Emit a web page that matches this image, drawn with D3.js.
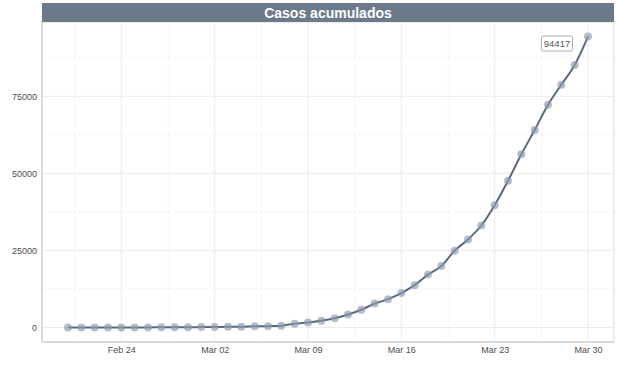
<!DOCTYPE html>
<html>
<head>
<meta charset="utf-8">
<script src="https://cdn.jsdelivr.net/npm/d3@7"></script>
<style>
  body { margin: 0; background: #fff; }
  text { font-family: "Liberation Sans", Arial, sans-serif; }
</style>
</head>
<body>
<div id="chart"></div>
<script>
var startDate = "2020-02-20";
var casos = [2, 2, 2, 3, 6, 13, 23, 32, 45, 84,
  114, 151, 198, 237, 365, 430, 589, 1204, 1622, 2140,
  2965, 4209, 5753, 7753, 9191, 11178, 13716, 17147, 19980, 24926,
  28572, 33089, 39673, 47610, 56188, 64059, 72248, 78797, 85195, 94417];
var yTicks = [0, 25000, 50000, 75000];
var xTickLabels = ["2020-02-24", "2020-03-02", "2020-03-09", "2020-03-16", "2020-03-23", "2020-03-30"];

var width = 620, height = 368;
var margin = {top: 22, right: 6, bottom: 26, left: 42};
var innerW = width - margin.left - margin.right;
var innerH = height - margin.top - margin.bottom;

var parseDate = d3.timeParse("%Y-%m-%d");
var day0 = parseDate(startDate);
var data = casos.map(function(v, i) {
  return {date: d3.timeDay.offset(day0, i), value: v};
});

var xExt = d3.extent(data, d => d.date);
var pad = (xExt[1] - xExt[0]) * 0.05;
var xScale = d3.scaleTime()
  .domain([new Date(+xExt[0] - pad), new Date(+xExt[1] + pad)])
  .range([0, innerW]);

var yMax = d3.max(data, d => d.value);
var yScale = d3.scaleLinear()
  .domain([-yMax * 0.05, yMax * 1.05])
  .range([innerH, 0]);

var svg = d3.select("#chart").append("svg")
  .attr("width", width)
  .attr("height", height);

var g = svg.append("g")
  .attr("transform", `translate(${margin.left}, ${margin.top})`);

/* grid */
var xMajor = xTickLabels.map(parseDate);
var xMinor = [d3.timeHour.offset(d3.timeDay.offset(xMajor[0], -4), 12)];
xMajor.forEach(d => xMinor.push(d3.timeHour.offset(d3.timeDay.offset(d, 3), 12)));
var yMinor = [12500, 37500, 62500, 87500];

g.selectAll(".xminor").data(xMinor).enter().append("line")
  .attr("x1", d => xScale(d)).attr("x2", d => xScale(d))
  .attr("y1", 0).attr("y2", innerH)
  .attr("stroke", "#f4f4f4").attr("stroke-width", 0.8);
g.selectAll(".yminor").data(yMinor).enter().append("line")
  .attr("x1", 0).attr("x2", innerW)
  .attr("y1", d => yScale(d)).attr("y2", d => yScale(d))
  .attr("stroke", "#f4f4f4").attr("stroke-width", 0.8);
g.selectAll(".xmajor").data(xMajor).enter().append("line")
  .attr("x1", d => xScale(d)).attr("x2", d => xScale(d))
  .attr("y1", 0).attr("y2", innerH)
  .attr("stroke", "#ebebeb").attr("stroke-width", 1);
g.selectAll(".ymajor").data(yTicks).enter().append("line")
  .attr("x1", 0).attr("x2", innerW)
  .attr("y1", d => yScale(d)).attr("y2", d => yScale(d))
  .attr("stroke", "#ebebeb").attr("stroke-width", 1);

/* panel border */
g.append("rect")
  .attr("x", 0).attr("y", 0)
  .attr("width", innerW).attr("height", innerH)
  .attr("fill", "none").attr("stroke", "#dcdcdc").attr("stroke-width", 1);
g.append("line")
  .attr("x1", 0).attr("x2", 0).attr("y1", 0).attr("y2", innerH)
  .attr("stroke", "#c8c8c8");
g.append("line")
  .attr("x1", 0).attr("x2", innerW).attr("y1", innerH).attr("y2", innerH)
  .attr("stroke", "#c8c8c8");

/* axes */
var xAxis = d3.axisBottom(xScale).tickValues(xMajor).tickFormat(d3.timeFormat("%b %d")).tickSize(0).tickPadding(5);
var yAxis = d3.axisLeft(yScale).tickValues(yTicks).tickFormat(d3.format("d")).tickSize(0).tickPadding(5);

g.append("g")
  .attr("transform", `translate(0, ${innerH})`)
  .call(xAxis)
  .call(s => s.select(".domain").remove())
  .selectAll("text").attr("fill", "#4d4d4d").style("font-size", "9px");

g.append("g")
  .call(yAxis)
  .call(s => s.select(".domain").remove())
  .selectAll("text").attr("fill", "#4d4d4d").style("font-size", "9px");

/* line + points */
var line = d3.line()
  .x(d => xScale(d.date))
  .y(d => yScale(d.value))
  .curve(d3.curveMonotoneX);

g.append("path")
  .datum(data)
  .attr("d", line)
  .attr("fill", "none")
  .attr("stroke", "#5a6a7b")
  .attr("stroke-width", 2);

g.selectAll(".pt").data(data).enter().append("circle")
  .attr("cx", d => xScale(d.date))
  .attr("cy", d => yScale(d.value))
  .attr("r", 4)
  .attr("fill", "#8a9ab0")
  .attr("fill-opacity", 0.65);

/* last value label */
var last = data[data.length - 1];
var lab = g.append("g")
  .attr("transform", `translate(${xScale(last.date) - 31}, ${yScale(last.value) + 7})`);
lab.append("rect")
  .attr("x", -15.5).attr("y", -7.5)
  .attr("width", 31).attr("height", 15)
  .attr("rx", 2)
  .attr("fill", "#fff").attr("stroke", "#9a9a9a").attr("stroke-width", 0.8);
lab.append("text")
  .attr("text-anchor", "middle")
  .attr("dy", "0.35em")
  .attr("fill", "#555")
  .style("font-size", "9.5px")
  .text(last.value);

/* title strip */
svg.append("rect")
  .attr("x", margin.left).attr("y", 3)
  .attr("width", innerW).attr("height", margin.top - 3)
  .attr("fill", "#6a7a8b");
svg.append("text")
  .attr("x", margin.left + innerW / 2)
  .attr("y", 3 + (margin.top - 3) / 2)
  .attr("dy", "0.36em")
  .attr("text-anchor", "middle")
  .attr("fill", "#fff")
  .style("font-size", "14px")
  .style("font-weight", "bold")
  .text("Casos acumulados");
</script>
</body>
</html>
